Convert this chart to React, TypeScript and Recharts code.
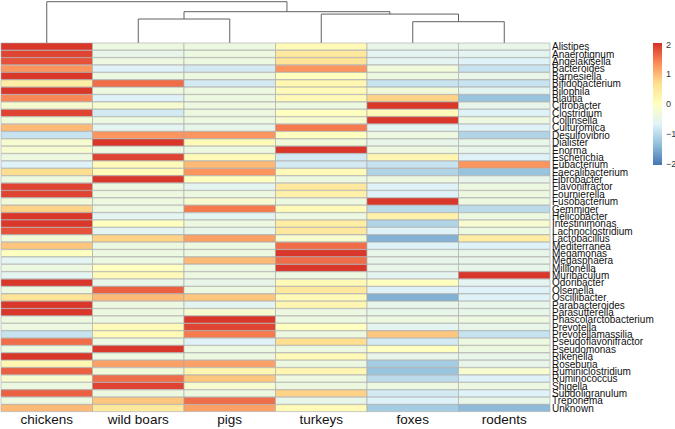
import React from 'react'
import { BarChart, Bar, XAxis, YAxis, Cell, Customized } from 'recharts'

const HOSTS = ['chickens', 'wild boars', 'pigs', 'turkeys', 'foxes', 'rodents']

const GENERA = [
  'Alistipes', 'Anaerotignum', 'Angelakisella', 'Bacteroides', 'Barnesiella',
  'Bifidobacterium', 'Bilophila', 'Blautia', 'Citrobacter', 'Clostridium',
  'Collinsella', 'Culturomica', 'Desulfovibrio', 'Dialister', 'Enorma',
  'Escherichia', 'Eubacterium', 'Faecalibacterium', 'Fibrobacter', 'Flavonifractor',
  'Fournierella', 'Fusobacterium', 'Gemmiger', 'Helicobacter', 'Intestinimonas',
  'Lachnoclostridium', 'Lactobacillus', 'Mediterranea', 'Megamonas', 'Megasphaera',
  'Millionella', 'Muribaculum', 'Odoribacter', 'Olsenella', 'Oscillibacter',
  'Parabacteroides', 'Parasutterella', 'Phascolarctobacterium', 'Prevotella', 'Prevotellamassilia',
  'Pseudoflavonifractor', 'Pseudomonas', 'Rikenella', 'Roseburia', 'Ruminiclostridium',
  'Ruminococcus', 'Shigella', 'Subdoligranulum', 'Treponema', 'Unknown',
]

// row-scaled z-scores, one array per host, same order as GENERA
const chickens = [
  2.0, 1.9, 1.8, 1.3, 2.0, 0.4, 2.0, 1.4, -0.2, 1.9,
  -0.3, 1.0, -0.9, -0.2, -0.2, -0.4, -0.7, 0.7, -0.4, 1.9,
  1.9, -0.3, 0.8, 2.0, 2.0, 1.8, -0.3, 0.9, 0.0, -0.6,
  -0.4, -0.6, 2.0, -0.4, 0.6, 2.0, 2.0, -0.4, -0.4, -0.9,
  1.6, -0.4, 2.0, 0.2, 1.7, -0.2, -0.4, 1.7, -0.4, 1.0,
]
const wildBoars = [
  -0.4, -0.5, -0.4, -0.7, -0.4, 1.6, -0.4, -0.7, -0.2, -0.8,
  -0.4, -0.6, 1.3, 2.0, -0.4, 1.9, 0.1, 0.1, 2.0, -0.4,
  -0.4, -0.4, -0.4, -0.6, 0.0, -0.6, 0.8, -0.4, -0.4, -0.4,
  0.0, 0.1, -0.5, 1.7, 1.0, -0.4, -0.4, -0.4, 0.1, 0.1,
  -0.4, 2.0, -0.4, 1.2, -0.3, 1.6, 1.9, -0.4, 0.9, 0.5,
]
const pigs = [
  -0.4, -0.4, -0.4, -0.8, -0.4, -0.8, -0.4, -0.4, -0.4, -0.4,
  -0.4, -0.5, 1.3, 0.1, -0.4, 0.1, 1.0, 1.3, 0.0, -0.6,
  -0.4, -0.2, 1.5, -0.6, -0.4, -0.5, 1.2, -0.4, -0.4, 1.0,
  -0.4, -0.4, -0.5, -0.4, 0.9, -0.6, -0.2, 2.0, 1.9, 1.5,
  -0.7, -0.4, -0.4, 1.2, 0.2, 0.9, -0.2, -0.4, 1.6, 1.2,
]
const turkeys = [
  0.1, 0.5, 0.6, 1.3, 0.0, 0.2, 0.1, 0.1, -0.4, 0.0,
  -0.2, 1.5, 0.0, -0.3, 2.0, -0.8, -0.8, 0.1, -0.4, 0.5,
  0.3, -0.4, 0.1, -0.4, 0.4, 0.5, -0.2, 1.6, 2.0, 1.6,
  2.0, -0.4, 0.1, 0.5, 0.1, 0.2, -0.4, -0.4, 0.0, -0.4,
  0.7, -0.4, 0.1, -0.4, 0.2, -0.4, -0.4, 0.8, -0.5, 0.1,
]
const foxes = [
  -0.5, -0.6, -0.6, -0.3, -0.4, -0.9, -0.3, 0.8, 2.0, 0.1,
  2.0, -0.6, -0.4, -0.5, -0.4, 0.2, -0.9, -1.1, -0.4, -0.7,
  -0.7, 2.0, -1.0, 0.3, -1.1, -0.7, -1.5, -0.7, -0.5, -0.5,
  -0.5, -0.6, 0.0, -0.7, -1.5, -0.5, -0.5, -0.4, -0.6, 0.9,
  -0.8, 0.0, -0.5, -1.2, -1.3, -1.0, -0.4, -0.8, -0.7, -1.2,
]
const rodents = [
  -0.5, -0.6, -0.7, -0.9, -0.5, -0.9, -0.6, -1.3, -0.5, -0.7,
  -0.4, -0.7, -1.1, -0.5, -0.5, -0.7, 1.3, -1.3, -0.5, -0.4,
  -0.4, -0.4, -1.0, -0.4, -0.2, -0.4, 0.4, -0.7, -0.5, -0.5,
  -0.5, 2.0, -0.6, -0.7, -0.7, -0.5, -0.5, -0.4, -0.5, -0.9,
  -0.4, -0.4, -0.5, -0.5, -0.2, -0.7, -0.4, -0.7, -0.5, -1.4,
]

const LEGEND_TICKS = [2, 1, 0, -1, -2]

// hclust merges: negative = leaf (1-based host), positive = earlier merge; heights relative to root
const MERGES = [[-5, -6], [-2, -3], [-4, 1], [2, 3], [-1, 4]]
const MERGE_HEIGHTS = [0.516, 0.581, 0.7, 0.758, 1.0]

const PALETTE = ['#4575B4', '#91BFDB', '#E0F3F8', '#FFFFBF', '#FEE090', '#FC8D59', '#D73027']
const LO = -2.05
const HI = 2.05

const hexToRgb = (h: string) => [1, 3, 5].map((i) => parseInt(h.slice(i, i + 2), 16))

const heat = (v: number) => {
  const t = Math.min(Math.max((v - LO) / (HI - LO), 0), 1) * (PALETTE.length - 1)
  const i = Math.min(Math.floor(t), PALETTE.length - 2)
  const f = t - i
  const a = hexToRgb(PALETTE[i])
  const b = hexToRgb(PALETTE[i + 1])
  const c = a.map((x, k) => Math.round(x + (b[k] - x) * f))
  return `rgb(${c[0]},${c[1]},${c[2]})`
}

const W = 675
const H = 429
const MARGIN = { top: 43, right: 0, left: 1, bottom: 0 }
const Y_AXIS_W = 125
const X_AXIS_H = 17
const PLOT_W = W - MARGIN.left - MARGIN.right - Y_AXIS_W

const columns = [chickens, wildBoars, pigs, turkeys, foxes, rodents]

const data = GENERA.map((genus, i) => {
  const row: Record<string, any> = { genus, z: columns.map((col) => col[i]) }
  HOSTS.forEach((_, k) => { row[`s${k}`] = 1 })
  return row
})

const Dendrogram = () => {
  const colW = PLOT_W / HOSTS.length
  const base = MARGIN.top
  const topY = 1.7
  const yOf = (h: number) => base - h * (base - topY)
  const nodes: { x: number; y: number }[] = []
  const pos = (ref: number) =>
    ref < 0 ? { x: MARGIN.left + (-ref - 0.5) * colW, y: base } : nodes[ref - 1]
  const paths: string[] = []
  MERGES.forEach(([a, b], i) => {
    const p = pos(a)
    const q = pos(b)
    const y = yOf(MERGE_HEIGHTS[i])
    paths.push(`M${p.x},${p.y}V${y}H${q.x}V${q.y}`)
    nodes.push({ x: (p.x + q.x) / 2, y })
  })
  return (
    <g>
      {paths.map((d, i) => (
        <path key={i} d={d} fill="none" stroke="#606060" strokeWidth={1} />
      ))}
    </g>
  )
}

const ColorKey = () => {
  const x = 653
  const y0 = 43
  const h = 122
  const yOf = (v: number) => y0 + ((HI - v) / (HI - LO)) * h
  return (
    <g>
      <defs>
        <linearGradient id="heatKey" x1="0" y1="0" x2="0" y2="1">
          {PALETTE.slice().reverse().map((c, i) => (
            <stop key={i} offset={`${(i / (PALETTE.length - 1)) * 100}%`} stopColor={c} />
          ))}
        </linearGradient>
      </defs>
      <rect x={x} y={y0} width={9} height={h} fill="url(#heatKey)" />
      {LEGEND_TICKS.map((v) => (
        <text
          key={v}
          x={x + 13}
          y={yOf(v)}
          dy="0.35em"
          fontSize={9}
          fontFamily="Liberation Sans, Arial, sans-serif"
          fill="#333"
        >
          {v < 0 ? `\u2212${Math.abs(v)}` : v}
        </text>
      ))}
    </g>
  )
}

export default function App() {
  return (
    <div style={{ position: 'fixed', left: 0, top: 0, width: W, height: H, background: '#fff' }}>
      <BarChart
        width={W}
        height={H}
        data={data}
        layout="vertical"
        margin={MARGIN}
        barCategoryGap={0}
        barGap={0}
      >
        <XAxis
          type="number"
          domain={[0, HOSTS.length]}
          ticks={HOSTS.map((_, i) => i + 0.5)}
          tickFormatter={(v: number) => HOSTS[Math.floor(v)]}
          axisLine={false}
          tickLine={false}
          tickSize={0}
          height={X_AXIS_H}
          tickMargin={2}
          interval={0}
          tick={{ fontSize: 13.5, fill: '#111', fontFamily: 'Liberation Sans, Arial, sans-serif' }}
        />
        <YAxis
          type="category"
          dataKey="genus"
          orientation="right"
          width={Y_AXIS_W}
          axisLine={false}
          tickLine={false}
          tickSize={0}
          tickMargin={2}
          interval={0}
          tick={{ fontSize: 10, fill: '#111', fontFamily: 'Liberation Sans Narrow, Arial Narrow, sans-serif' }}
        />
        {HOSTS.map((host, k) => (
          <Bar
            key={host}
            dataKey={`s${k}`}
            name={host}
            stackId="heat"
            stroke="#a8a8a8"
            strokeWidth={0.6}
            isAnimationActive={false}
          >
            {data.map((d, i) => (
              <Cell key={i} fill={heat(d.z[k])} />
            ))}
          </Bar>
        ))}
        <Customized component={<Dendrogram />} />
        <Customized component={<ColorKey />} />
      </BarChart>
    </div>
  )
}
